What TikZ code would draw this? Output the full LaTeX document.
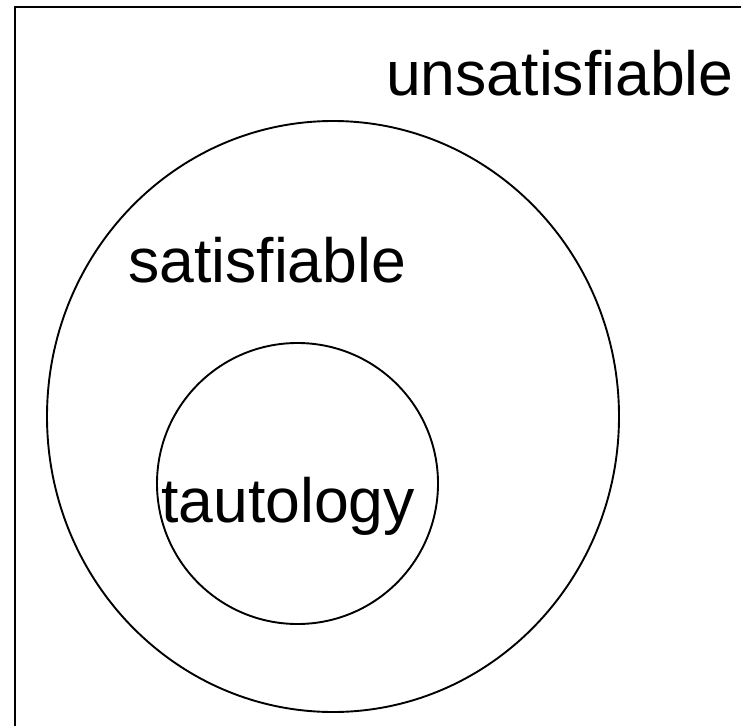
\documentclass[tikz,border=0pt]{standalone}
\usepackage{fontspec}
\setmainfont{Liberation Sans}
\usepackage{tikz}

\begin{document}
\begin{tikzpicture}[x=1pt, y=-1pt,
  every node/.style={font=\fontsize{62.5}{72}\selectfont, inner sep=0pt, anchor=base west},
  setline/.style={black, line width=1.9pt}
]
  \clip (0,0) rectangle (741,725);
  \fill[white] (0,0) rectangle (741,725);

  % Universe box (runs off the right and bottom)
  \draw[setline] (15,7) rectangle (780,760);

  % Satisfiable set
  \draw[setline] (333,416.5) ellipse [x radius=286, y radius=295.5];

  % Tautologies inside it
  \draw[setline] (297.5,483.5) circle [radius=140.5];

  % Labels
  \node (unsat) at (386,95) {unsatisfiable};
  \node (sat) at (128,282) {satisfiable};
  \node (taut) at (161,522) {tautology};
\end{tikzpicture}
\end{document}
